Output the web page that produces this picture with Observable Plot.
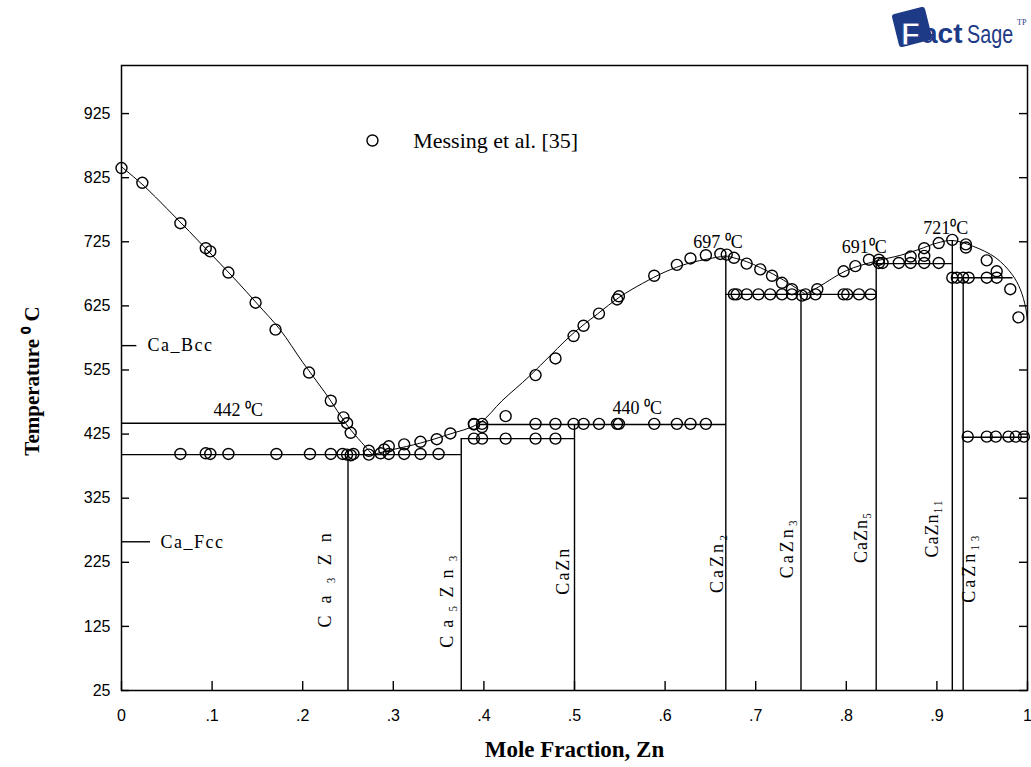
<!DOCTYPE html>
<html><head><meta charset="utf-8">
<script src="https://cdn.jsdelivr.net/npm/d3@7"></script>
<script src="https://cdn.jsdelivr.net/npm/@observablehq/plot@0.6"></script>
<style>
body{margin:0;background:#fff;}
#wrap{position:relative;width:1031px;height:767px;overflow:hidden;}
#logo{position:absolute;left:888px;top:3px;}
</style></head><body>
<div id="wrap"><div id="chart"></div>
<div id="logo"><svg width="141" height="52">
<rect x="7" y="7" width="34" height="34" rx="3" fill="#1d3a86" transform="rotate(-14 24 24)"/>
<text x="13" y="42" font-family="Liberation Sans" font-weight="bold" font-size="31" fill="#fff" stroke="#1d3a86" stroke-width="0.8">F</text>
<text x="34" y="40" font-family="Liberation Sans" font-weight="bold" font-size="28" fill="#1d3a86">act</text>
<text transform="translate(79,40) scale(0.76,1)" x="0" y="0" font-family="Liberation Sans" font-size="26" fill="#1d3a86">Sage</text>
<text x="129" y="22" font-family="Liberation Serif" font-size="8" fill="#1d3a86">TP</text>
</svg></div></div>
<script>
// ---- axis ticks
const yTicks = [25, 125, 225, 325, 425, 525, 625, 725, 825, 925];
const xTicks = [0, 0.1, 0.2, 0.3, 0.4, 0.5, 0.6, 0.7, 0.8, 0.9, 1];
const xTickLabels = ["0", ".1", ".2", ".3", ".4", ".5", ".6", ".7", ".8", ".9", "1"];

// ---- calculated liquidus curves [x, T]
const liquidusCa = [[0,842],[0.025,812],[0.05,777],[0.075,741],[0.1,704],[0.125,667],[0.15,628],[0.175,588],[0.2,537],[0.225,489],[0.25,437],[0.265,412],[0.277,393]];
const liquidusMid = [[0.277,393],[0.3,401],[0.33,411],[0.36,424],[0.395,442],[0.42,477],[0.45,515],[0.475,550],[0.5,584],[0.525,612],[0.55,639],[0.575,660],[0.6,678],[0.625,691],[0.65,699],[0.667,703]];
const liquidusCaZn2 = [[0.667,703],[0.69,694],[0.72,674],[0.74,657],[0.755,643]];
const liquidusZn = [[0.755,643],[0.77,655],[0.8,680],[0.833,695],[0.86,704],[0.88,713],[0.9,723],[0.917,727],[0.94,718],[0.965,700],[0.983,674],[0.992,651],[0.998,622],[1,600]];

// ---- invariant (horizontal) lines
const invT  = [442, 393, 418, 440, 643, 691, 669, 420];
const invX1 = [0, 0, 0.375, 0.395, 0.667, 0.833, 0.917, 0.929];
const invX2 = [0.247, 0.375, 0.5, 0.667, 0.833, 0.917, 0.984, 1];

// ---- compounds (vertical lines)
const compounds = ["Ca₃Zn", "Ca₅Zn₃", "CaZn", "CaZn₂", "CaZn₃", "CaZn₅", "CaZn₁₁", "CaZn₁₃"];
const compoundX = [0.25, 0.375, 0.5, 0.667, 0.75, 0.833, 0.917, 0.929];
const compoundTop = [393, 418, 440, 703, 643, 695, 727, 669];
const compoundLabelX = [0.225, 0.36, 0.488, 0.657, 0.735, 0.816, 0.895, 0.936];
const compoundLabelT = [206, 170, 212, 225, 248, 264, 278, 217];
const compoundSpacing = ["12px", "8px", "2px", "3px", "3px", "1px", "1px", "3px"];

// ---- temperature annotations
const tempLabels = ["442 \u2070C", "440 \u2070C", "697 \u2070C", "691\u2070C", "721\u2070C"];
const tempLabelX = [0.1015, 0.542, 0.631, 0.795, 0.885];
const tempLabelT = [462, 465, 725, 716, 746];

// ---- Ca allotrope markers on the left axis
const phaseNames = ["Ca_Bcc", "Ca_Fcc"];
const phaseT = [563, 257];
const phaseDashX = [0.017, 0.032];
const phaseTextX = [0.0287, 0.043];

// ---- Messing et al. [35] experimental points [x, T]
const messing = [
  [0,840],[0.023,817],[0.065,754],[0.093,715],[0.098,710],[0.118,677],[0.148,630],[0.17,588],[0.207,521],[0.231,477],[0.245,451],[0.249,442],[0.253,427],[0.273,399],
  [0.065,394],[0.093,395],[0.098,394],[0.118,394],[0.171,394],[0.208,394],[0.231,394],[0.244,394],[0.249,393],[0.253,392],[0.256,394],[0.273,393],[0.286,395],[0.295,394],[0.312,394],[0.33,394],[0.35,394],
  [0.29,401],[0.295,406],[0.312,409],[0.33,413],[0.348,417],[0.363,426],[0.389,440],[0.398,436],
  [0.389,418],[0.398,418],[0.424,418],[0.457,418],[0.479,418],
  [0.389,441],[0.398,441],[0.457,441],[0.479,441],[0.499,441],[0.51,441],[0.527,441],[0.547,441],[0.549,441],[0.588,441],[0.613,441],[0.628,441],[0.645,441],[0.424,453],
  [0.457,517],[0.479,543],[0.499,578],[0.51,594],[0.527,613],[0.547,635],[0.549,640],[0.588,672],[0.613,689],[0.628,699],[0.645,704],[0.661,706],[0.668,705],
  [0.676,700],[0.69,691],[0.705,682],[0.718,672],[0.729,661],[0.74,651],
  [0.676,643],[0.679,643],[0.69,643],[0.703,643],[0.716,643],[0.729,643],[0.74,643],[0.751,641],[0.755,643],[0.766,643],[0.797,643],[0.801,643],[0.814,643],[0.827,643],
  [0.768,651],[0.797,679],[0.81,687],[0.825,697],[0.836,697],
  [0.836,692],[0.84,692],[0.858,692],[0.871,692],[0.886,692],[0.902,692],
  [0.871,702],[0.886,703],[0.886,715],[0.902,723],[0.917,728],[0.932,721],[0.932,716],[0.955,696],[0.966,679],[0.981,651],[0.99,607],
  [0.917,669],[0.922,669],[0.929,669],[0.935,669],[0.955,669],[0.966,669],
  [0.934,421],[0.955,421],[0.965,421],[0.979,421],[0.987,421],[0.996,421]
];

// ---- legend
const legendText = ["Messing et al. [35]"];
const legendX = [0.277];
const legendTextX = [0.322];
const legendT = [883];

const serif = "Liberation Serif, Times New Roman, serif";
const sans = "Liberation Sans, Arial, sans-serif";
const px = (d) => d[0], py = (d) => d[1];

const chart = Plot.plot({
  width: 1031,
  height: 767,
  marginLeft: 121,
  marginRight: 4,
  marginTop: 65,
  marginBottom: 77,
  x: {domain: [0, 1]},
  y: {domain: [25, 1000]},
  style: {fontFamily: serif, background: "white", color: "black"},
  marks: [
    // curves
    Plot.line(liquidusCa, {x: px, y: py, curve: "catmull-rom", stroke: "black", strokeWidth: 1}),
    Plot.line(liquidusMid, {x: px, y: py, curve: "catmull-rom", stroke: "black", strokeWidth: 1}),
    Plot.line(liquidusCaZn2, {x: px, y: py, curve: "catmull-rom", stroke: "black", strokeWidth: 1}),
    Plot.line(liquidusZn, {x: px, y: py, curve: "catmull-rom", stroke: "black", strokeWidth: 1}),
    // invariant lines
    Plot.ruleY(invT, {y: d => d, x1: (d, i) => invX1[i], x2: (d, i) => invX2[i], stroke: "black", strokeWidth: 1.4}),
    // compounds
    Plot.ruleX(compoundX, {x: d => d, y1: 25, y2: (d, i) => compoundTop[i], stroke: "black", strokeWidth: 1.4}),
    // allotrope markers
    Plot.ruleY(phaseT, {y: d => d, x1: 0, x2: (d, i) => phaseDashX[i], stroke: "black", strokeWidth: 1.4}),
    Plot.text(phaseNames, {x: (d, i) => phaseTextX[i], y: (d, i) => phaseT[i], text: d => d, textAnchor: "start", fontSize: 18, fontFamily: serif}),
    // experimental points
    Plot.dot(messing, {x: px, y: py, r: 5.5, stroke: "black", strokeWidth: 1.4, fill: "none"}),
    // compound labels
    Plot.text(compounds, {x: (d, i) => compoundLabelX[i], y: (d, i) => compoundLabelT[i], text: d => d, rotate: -90, fontSize: 18, fontFamily: serif}),
    // temperature annotations
    Plot.text(tempLabels, {x: (d, i) => tempLabelX[i], y: (d, i) => tempLabelT[i], text: d => d, textAnchor: "start", fontSize: 18, fontFamily: serif}),
    // legend
    Plot.dot(legendText, {x: (d, i) => legendX[i], y: (d, i) => legendT[i], r: 5.5, stroke: "black", strokeWidth: 1.4, fill: "none"}),
    Plot.text(legendText, {x: (d, i) => legendTextX[i], y: (d, i) => legendT[i], text: d => d, textAnchor: "start", fontSize: 22, fontFamily: serif}),
    // frame and inner ticks
    Plot.frame({stroke: "black", strokeWidth: 1.5}),
    Plot.ruleY(yTicks, {y: d => d, insetRight: 898, stroke: "black", strokeWidth: 1.4}),
    Plot.ruleY(yTicks, {y: d => d, insetLeft: 898, stroke: "black", strokeWidth: 1.4}),
    Plot.ruleX(xTicks, {x: d => d, insetTop: 616, stroke: "black", strokeWidth: 1.4}),
    // axes labels
    Plot.axisY({ticks: yTicks, tickSize: 0, tickPadding: 11, fontSize: 16, fontFamily: sans, label: null}),
    Plot.axisX({ticks: xTicks, tickSize: 0, tickPadding: 19, fontSize: 16, fontFamily: sans, label: null,
      tickFormat: d => xTickLabels[xTicks.indexOf(d)]}),
    Plot.text(["Temperature \u2070 C"], {frameAnchor: "left", textAnchor: "middle", lineAnchor: "middle", text: d => d, rotate: -90, dx: -89, dy: 3, fontSize: 21, fontWeight: "bold", fontFamily: serif}),
    Plot.text(["Mole Fraction, Zn"], {frameAnchor: "bottom", textAnchor: "middle", text: d => d, dy: 66, fontSize: 23, fontWeight: "bold", fontFamily: serif})
  ]
});
// letter spacing of the serif labels (as in the reference)
d3.select(chart).selectAll("text").each(function() {
  const t = this.textContent;
  const i = compounds.indexOf(t);
  if (i >= 0) this.style.letterSpacing = compoundSpacing[i];
  if (phaseNames.includes(t)) this.style.letterSpacing = "1.5px";
});
document.getElementById("chart").appendChild(chart);
</script>
</body></html>
